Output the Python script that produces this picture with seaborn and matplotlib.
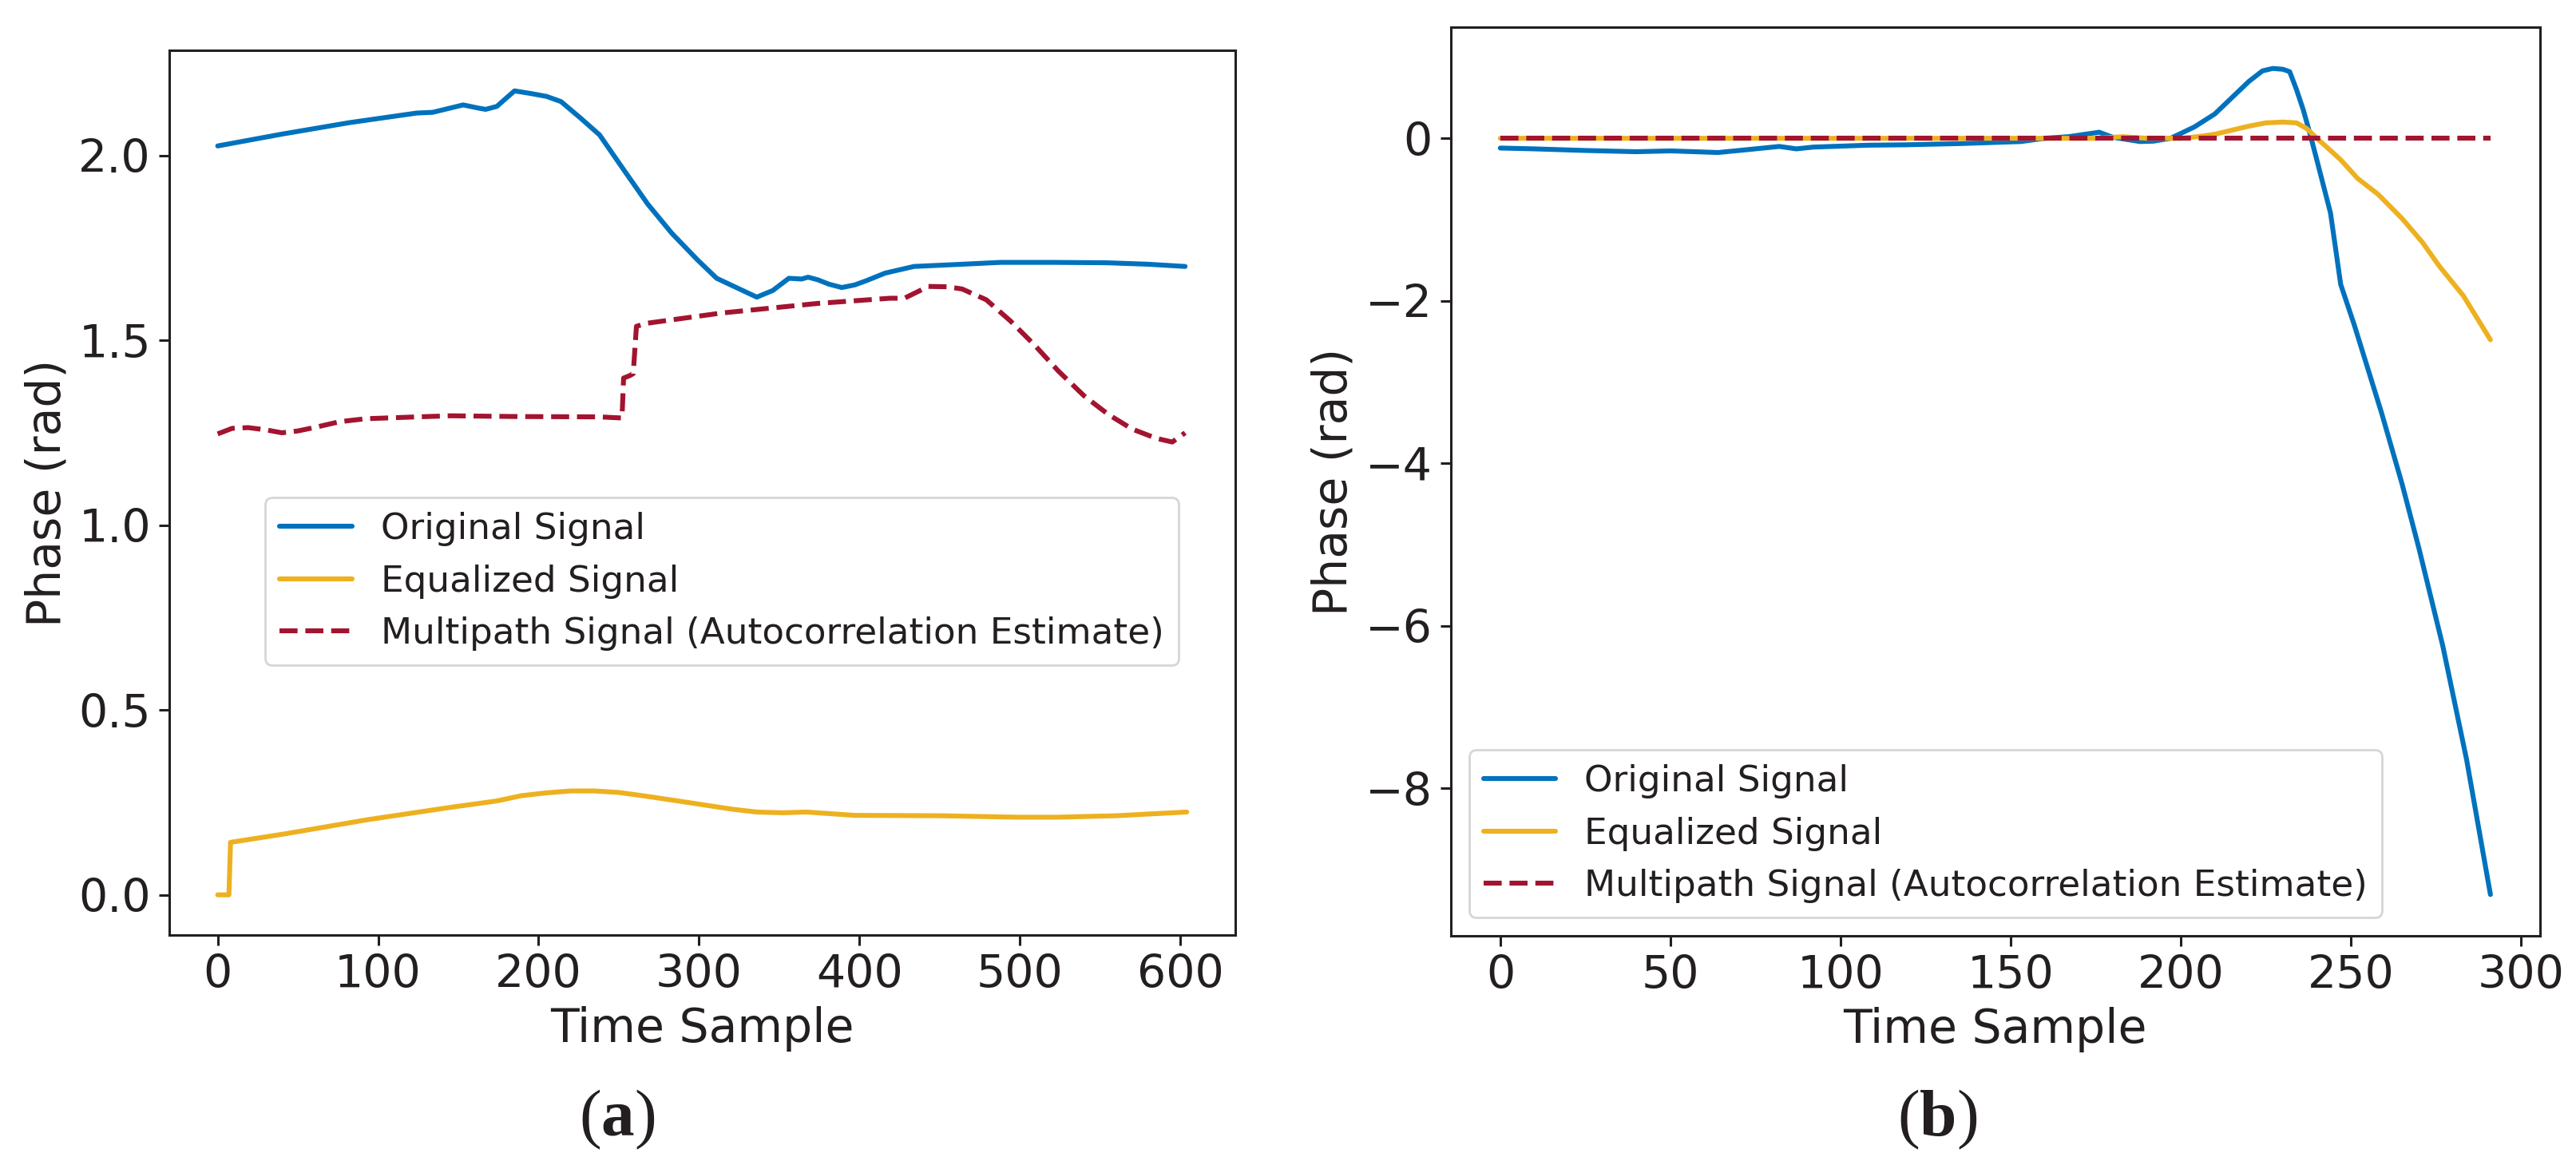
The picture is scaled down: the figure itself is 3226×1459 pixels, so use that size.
import matplotlib
matplotlib.use("Agg")
import matplotlib.pyplot as plt
import seaborn as sns

# ---- panel (a): long capture ----
t_a_orig = [0, 40, 82, 124, 134, 153, 163, 167, 174, 185, 195, 205, 214, 226, 238, 253,
            268, 283, 299, 311, 336, 346, 356, 364, 368, 374, 381, 389, 397, 404, 416,
            434, 464, 488, 520, 554, 580, 603]
ph_a_orig = [2.026, 2.058, 2.089, 2.115, 2.117, 2.137, 2.128, 2.125, 2.133, 2.175, 2.168,
             2.160, 2.146, 2.102, 2.056, 1.962, 1.869, 1.790, 1.718, 1.668, 1.617, 1.635,
             1.668, 1.666, 1.671, 1.664, 1.652, 1.643, 1.650, 1.661, 1.682, 1.700, 1.706,
             1.711, 1.711, 1.710, 1.706, 1.700]

t_a_eq = [0, 7, 8, 42, 93, 144, 174, 189, 205, 220, 235, 250, 270, 296, 320, 336, 352,
          367, 397, 450, 499, 523, 560, 604]
ph_a_eq = [0, 0, 0.142, 0.165, 0.203, 0.236, 0.254, 0.268, 0.276, 0.281, 0.281, 0.277,
           0.265, 0.248, 0.232, 0.224, 0.222, 0.224, 0.215, 0.214, 0.210, 0.210, 0.214, 0.224]

t_a_mp = [0, 9, 19, 30, 40, 50, 61, 76, 92, 124, 145, 186, 238, 252, 253, 257, 259, 261,
          267, 314, 374, 419, 428, 443, 455, 464, 479, 494, 509, 524, 540, 555, 570, 585,
          595, 603]
ph_a_mp = [1.247, 1.262, 1.264, 1.258, 1.250, 1.255, 1.265, 1.280, 1.288, 1.293, 1.296,
           1.294, 1.293, 1.290, 1.398, 1.405, 1.410, 1.538, 1.546, 1.574, 1.600, 1.614,
           1.614, 1.646, 1.645, 1.639, 1.610, 1.553, 1.488, 1.417, 1.350, 1.300, 1.260,
           1.235, 1.225, 1.250]

# ---- panel (b): short capture ----
t_b_orig = [0, 10, 25, 40, 50, 64, 74, 82, 87, 92, 108, 119, 135, 153, 160, 167, 176, 180,
            188, 192, 197, 204, 210, 215, 220, 224, 227, 230, 232, 234, 236, 238, 240, 244,
            247, 251, 259, 265, 270, 277, 284, 291]
ph_b_orig = [-0.12, -0.13, -0.15, -0.165, -0.155, -0.175, -0.134, -0.10, -0.13, -0.108,
             -0.085, -0.08, -0.065, -0.04, 0.0, 0.02, 0.075, 0.013, -0.04, -0.035, 0.0,
             0.14, 0.30, 0.50, 0.70, 0.83, 0.86, 0.85, 0.82, 0.60, 0.35, 0.05, -0.27,
             -0.92, -1.80, -2.30, -3.38, -4.25, -5.05, -6.25, -7.65, -9.31]

t_b_eq = [0, 50, 100, 150, 175, 183, 190, 200, 205, 210, 215, 220, 225, 230, 234, 237,
          240, 244, 247, 252, 258, 265, 271, 276, 283, 291]
ph_b_eq = [0, 0, 0, 0, 0, 0.02, 0, 0, 0.02, 0.05, 0.10, 0.15, 0.19, 0.20, 0.19, 0.12,
           0.0, -0.15, -0.265, -0.495, -0.69, -0.986, -1.28, -1.575, -1.936, -2.48]

t_b_mp = [0, 291]
ph_b_mp = [0, 0]

labels = ['Original Signal', 'Equalized Signal', 'Multipath Signal (Autocorrelation Estimate)']
colors = ['#0072BD', '#EDB120', '#A2142F']

sns.set_theme(style='ticks', rc={
    'axes.linewidth': 1.1,
    'axes.edgecolor': '#231f20',
    'xtick.major.size': 4.8,
    'ytick.major.size': 4.8,
    'xtick.major.width': 1.1,
    'ytick.major.width': 1.1,
    'xtick.color': '#231f20',
    'ytick.color': '#231f20',
    'text.color': '#231f20',
    'axes.labelcolor': '#231f20',
})
plt.rcParams['font.family'] = ['DejaVu Sans']
plt.rcParams['mathtext.fontset'] = 'custom'
plt.rcParams['mathtext.rm'] = 'Liberation Serif'
plt.rcParams['mathtext.bf'] = 'Liberation Serif:bold'

fig = plt.figure(figsize=(16.13, 7.295), dpi=200)
ax_a = fig.add_axes([0.0657, 0.1974, 0.4138, 0.7591])
ax_b = fig.add_axes([0.5632, 0.1967, 0.4228, 0.7800])


def draw_panel(ax, series):
    for (t, ph), lab, col in zip(series, labels, colors):
        ls = '--' if lab.startswith('Multipath') else '-'
        sns.lineplot(x=t, y=ph, ax=ax, color=col, linewidth=2.2, linestyle=ls,
                     label=lab, sort=False, estimator=None)
    ax.set_xlabel('Time Sample', fontsize=21)
    ax.set_ylabel('Phase (rad)', fontsize=21)
    ax.tick_params(labelsize=20.5)


draw_panel(ax_a, [(t_a_orig, ph_a_orig), (t_a_eq, ph_a_eq), (t_a_mp, ph_a_mp)])
draw_panel(ax_b, [(t_b_orig, ph_b_orig), (t_b_eq, ph_b_eq), (t_b_mp, ph_b_mp)])

ax_a.set_xticks([0, 100, 200, 300, 400, 500, 600])
ax_a.set_yticks([0.0, 0.5, 1.0, 1.5, 2.0])
ax_b.set_xticks([0, 50, 100, 150, 200, 250, 300])
ax_b.set_yticks([-8, -6, -4, -2, 0])

ax_a.legend(loc='upper left', bbox_to_anchor=(0.09, 0.495), borderaxespad=0, fontsize=16.3)
ax_b.legend(loc='lower left', fontsize=16.3)

# sub-figure captions
fig.text(773 / 3226, 1 - 1401 / 1459, r'$(\mathbf{a})$', ha='center', va='center', fontsize=30)
fig.text(2426 / 3226, 1 - 1401 / 1459, r'$(\mathbf{b})$', ha='center', va='center', fontsize=30)

fig.savefig('out.png', dpi=200)
